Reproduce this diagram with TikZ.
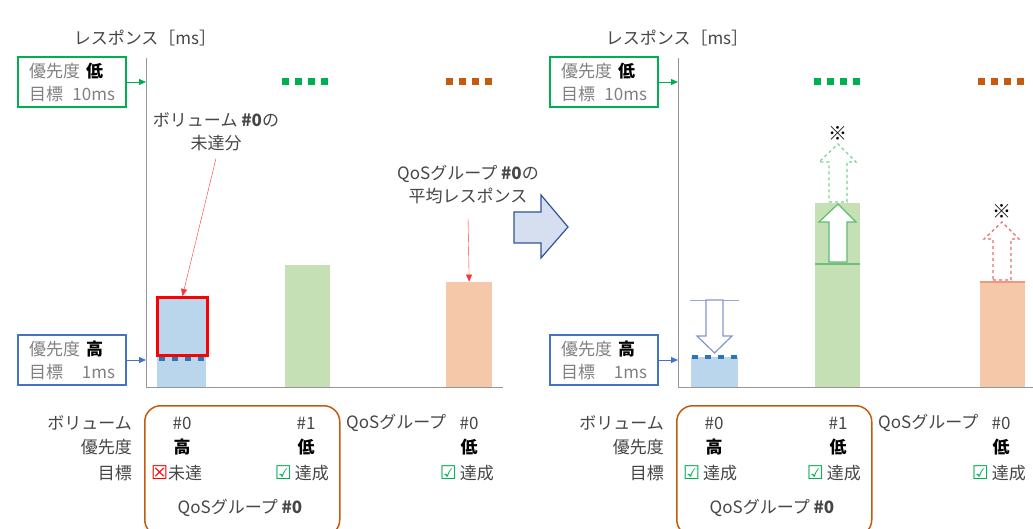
\documentclass[tikz,border=0pt]{standalone}
\usepackage{fontspec}
\setmainfont{Noto Sans CJK JP}
\newfontfamily\symfont{DejaVu Sans}
\usetikzlibrary{arrows.meta,positioning}
\definecolor{txtgray}{RGB}{70,70,70}
\definecolor{boxgray}{RGB}{128,128,128}
\definecolor{lowgreen}{RGB}{0,176,80}
\definecolor{highblue}{RGB}{68,114,196}
\definecolor{barblue}{RGB}{186,214,236}
\definecolor{bargreen}{RGB}{197,224,180}
\definecolor{barorange}{RGB}{246,200,170}
\definecolor{grpbrown}{RGB}{197,90,17}
\definecolor{dotblue}{RGB}{46,117,182}
\definecolor{axisgray}{RGB}{150,150,150}
\definecolor{bigarrow}{RGB}{47,85,151}
\definecolor{bigfill}{RGB}{214,223,240}
\definecolor{downgray}{RGB}{132,151,200}
\definecolor{upgreen}{RGB}{92,190,110}
\definecolor{dashgreen}{RGB}{120,210,150}
\definecolor{dashred}{RGB}{230,110,110}
\definecolor{topline}{RGB}{240,150,130}
\definecolor{oldline}{RGB}{112,190,120}
\definecolor{newblue}{RGB}{143,170,220}

\newcommand{\okmark}{{\symfont\fontsize{19}{19}\selectfont\textcolor{lowgreen}{☑}}}
\newcommand{\ngmark}{{\symfont\fontsize{19}{19}\selectfont\textcolor{red}{☒}}}
\newcommand{\hi}[1]{\textcolor{black}{\textbf{#1}}}

\tikzset{
    %Define standard arrow tip
    >={Triangle[length=7pt,width=6pt]},
    every node/.style={font=\fontsize{17}{23}\selectfont, text=txtgray, inner sep=0pt},
    %Define style for priority boxes
    prio/.style={
           rectangle,
           line width=1.5pt,
           minimum width=108,
           minimum height=50,
           text=boxgray,
           align=left},
    %Define style for bars
    bar/.style={
           rectangle,
           anchor=south west,
           minimum width=46},
    % marker for the target level
    mark dots/.style={line width=7pt, dash pattern=on 7pt off 6pt},
    hollow/.style={fill=white, line width=1.2pt},
    note/.style={font=\fontsize{19}{19}\selectfont, text=black}
}

\begin{document}
\begin{tikzpicture}[x=1pt,y=-1pt]
\useasboundingbox (0,0) rectangle (1033,529);

 %common parts of both panels
\foreach \dx/\p in {0/L,532/R}{
\begin{scope}[xshift=\dx]
\node (ttl\p) at (145,38) {レスポンス［ms］};
\node[prio, draw=lowgreen] (low\p) at (72,82)
    {\makebox[86pt][l]{優先度\hspace{6pt}\hi{低}}\\\makebox[86pt]{目標\hfill 10ms}};
\node[prio, draw=highblue] (high\p) at (72,360)
    {\makebox[86pt][l]{優先度\hspace{6pt}\hi{高}}\\\makebox[86pt]{目標\hfill 1ms}};
\coordinate (top\p) at (146,58);
\coordinate (org\p) at (146,387);
\draw[axisgray] (top\p) -- (org\p) -- ++(357,0);
\draw[->, lowgreen, thick] (low\p) -- (low\p -| org\p);
\draw[->, highblue, thick] (high\p) -- (high\p -| org\p);
\draw[lowgreen, mark dots] (282,82) -- ++(46,0);
\draw[grpbrown, mark dots] (446,82) -- ++(46,0);

 %table
\node[anchor=east] (vol\p) at (132,423) {ボリューム};
\node[anchor=east] (pri\p) at (132,447) {優先度};
\node[anchor=east] (goal\p) at (132,473) {目標};
\node[draw=grpbrown, line width=1.5pt, rounded corners=16, anchor=north west,
      minimum width=195, minimum height=130] (grp\p) at (144,405) {};
\node (id0\p) at (182,423) {\#0};
\node (id1\p) at (306,423) {\#1};
\node (pr0\p) at (182,447) {\hi{高}};
\node (pr1\p) at (306,447) {\hi{低}};
\node[anchor=east] (ok1\p) at (329,473) {\okmark\,達成};
\node (gname\p) at (240,508) {QoSグループ \textbf{\#0}};
\node[anchor=west] (qos\p) at (346,423) {QoSグループ};
\node (qid\p) at (469,423) {\#0};
\node (qpr\p) at (469,447) {\hi{低}};
\node[anchor=east] (qok\p) at (494,473) {\okmark\,達成};
\end{scope}
}

 %left panel
\node[bar, fill=barblue, minimum width=49, minimum height=30] (volL0) at (157,387) {};
\node[bar, fill=bargreen, minimum width=45, minimum height=122] (volL1) at (285,387) {};
\node[bar, fill=barorange, minimum height=105] (grpL) at (446,387) {};
\node[rectangle, draw=red, line width=3pt, fill=barblue, anchor=south west,
      minimum width=50, minimum height=58] (lack) at (156,357) {};
\draw[dotblue, line width=4pt, dash pattern=on 6pt off 7pt] (159,359) -- (205,359);
\node[align=center] (lacklbl) at (216,132) {ボリューム \textbf{\#0}の\\未達分};
\node[align=center] (avglbl) at (468,185) {QoSグループ \textbf{\#0}の\\平均レスポンス};
\draw[->, red!80] ([yshift=-7pt]lacklbl.south) -- (lack.north);
\draw[->, red!80] ([yshift=-14pt]avglbl.south) -- (grpL.north);
\node[anchor=west] (ng0L) at (151,473) {\ngmark 未達};

 %transition arrow
\draw[bigarrow, fill=bigfill, line width=1.2pt] (514,212) -- (541,212) -- (541,195)
    -- (568,227) -- (541,258) -- (541,243) -- (514,243) -- cycle;

 %right panel
\node[bar, fill=barblue, minimum width=47, minimum height=30] (volR0) at (691,387) {};
\node[bar, fill=bargreen, minimum width=45, minimum height=184] (volR1) at (815,387) {};
\node[bar, fill=barorange, minimum width=45, minimum height=105] (grpR) at (980,387) {};
\draw[dotblue, line width=4pt, dash pattern=on 6pt off 7pt] (692,357) -- (738,357);
\draw[newblue, thick] (690,300) -- (739,300);
\draw[oldline, line width=1.5pt] (815,264) -- (860,264);
\draw[topline, line width=1.5pt] (980,282) -- (1025,282);
\draw[downgray, hollow] (706,300) -- (723,300) -- (723,336) -- (732,336)
    -- (714.5,353) -- (697,336) -- (706,336) -- cycle;
\draw[upgreen, hollow] (829,262) -- (847,262) -- (847,222) -- (856,222)
    -- (838,204) -- (819,222) -- (829,222) -- cycle;
\draw[dashgreen, hollow, dashed] (829,202) -- (847,202) -- (847,162) -- (856,162)
    -- (838,144) -- (819,162) -- (829,162) -- cycle;
\draw[dashred, hollow, dashed] (993,280) -- (1011,280) -- (1011,239) -- (1019,239)
    -- (1002,222) -- (984,239) -- (993,239) -- cycle;
\node[note] (noteR1) at (838,133) {※};
\node[note] (noteR2) at (1002,211) {※};
\node[anchor=west] (ok0R) at (683,473) {\okmark\,達成};
\end{tikzpicture}
\end{document}
